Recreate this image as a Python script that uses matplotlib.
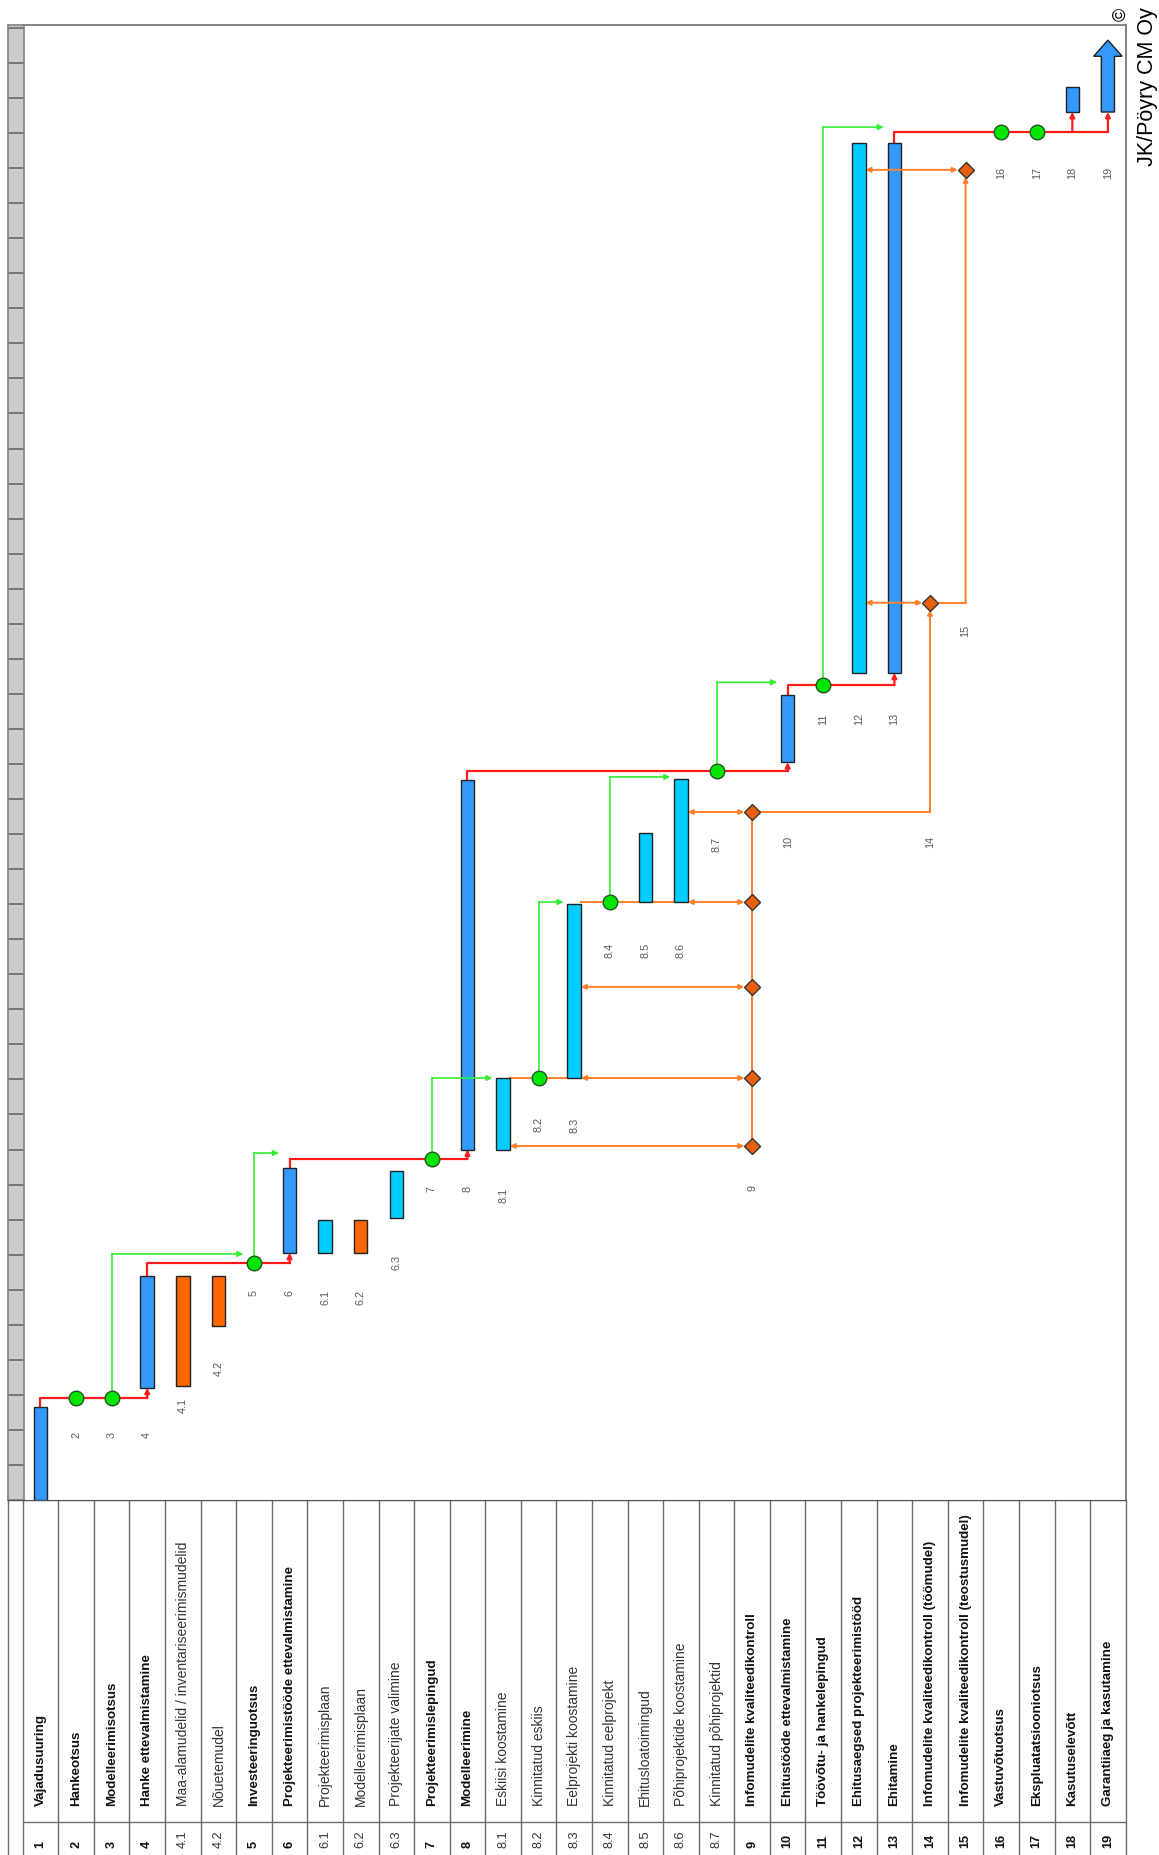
import numpy as np
import matplotlib
matplotlib.use("Agg")
import matplotlib.pyplot as plt
from matplotlib.lines import Line2D
from matplotlib.patches import FancyArrow

plt.rcParams["font.family"] = ["Liberation Sans", "DejaVu Sans"]

# ---- data (time runs bottom -> top, one column per task) ----
codes = ["1", "2", "3", "4", "4.1", "4.2", "5", "6", "6.1", "6.2", "6.3", "7", "8",
         "8.1", "8.2", "8.3", "8.4", "8.5", "8.6", "8.7", "9", "10", "11", "12", "13",
         "14", "15", "16", "17", "18", "19"]
names = ["Vajadusuuring", "Hankeotsus", "Modelleerimisotsus", "Hanke ettevalmistamine",
         "Maa-alamudelid / inventariseerimismudelid", "Nõuetemudel", "Investeeringuotsus",
         "Projekteerimistööde ettevalmistamine", "Projekteerimisplaan", "Modelleerimisplaan",
         "Projekteerijate valimine", "Projekteerimislepingud", "Modelleerimine",
         "Eskiisi koostamine", "Kinnitatud eskiis", "Eelprojekti koostamine",
         "Kinnitatud eelprojekt", "Ehitusloatoimingud", "Põhiprojektide koostamine",
         "Kinnitatud põhiprojektid", "Infomudelite kvaliteedikontroll",
         "Ehitustööde ettevalmistamine", "Töövõtu- ja hankelepingud",
         "Ehitusaegsed projekteerimistööd", "Ehitamine",
         "Infomudelite kvaliteedikontroll (töömudel)",
         "Infomudelite kvaliteedikontroll (teostusmudel)", "Vastuvõtuotsus",
         "Ekspluatatsiooniotsus", "Kasutuselevõtt", "Garantiiaeg ja kasutamine"]
kinds = ["main", "ms", "ms", "main", "model", "model", "ms", "main", "sub", "model", "sub",
         "ms", "main", "sub", "ms", "sub", "ms", "sub", "sub", "ms", "qc", "main", "ms",
         "sub", "main", "qc", "qc", "ms", "ms", "main", "arrow"]
nan = np.nan
starts = [0.0, 2.91, 2.91, 3.2, 3.25, 4.96, 6.76, 7.05, 7.05, 7.05, 8.05, 9.73, 10.0,
          10.0, 12.04, 12.04, 17.06, 17.06, 17.06, 20.8, 10.1, 21.05, 23.25, 23.6, 23.6,
          25.6, 37.95, 39.03, 39.03, 39.6, 39.6]
ends = [2.66, nan, nan, 6.4, 6.4, 6.4, nan, 9.47, 8.0, 8.0, 9.39, nan, 20.54,
        12.04, nan, 17.0, nan, 19.03, 20.57, nan, 19.63, 22.97, nan, 38.72, 38.72,
        nan, nan, nan, nan, 40.3, 41.65]

qc9_times = [10.1, 12.04, 14.64, 17.06, 19.63]
qc9_targets = ["8.1", "8.3", "8.3", "8.6", "8.6"]
qc_late = [("14", "12"), ("15", "12")]
orange_runs = [("8.1", "8.3", 12.04), ("8.3", "8.6", 17.06)]
red_links = [("1", ["4"]), ("4", ["6"]), ("6", ["8"]), ("8", ["10"]), ("10", ["13"]),
             ("13", ["18", "19"])]
green_links = [("3", "5", 7.02), ("5", "6", 9.9), ("7", "8.1", 12.04), ("8.2", "8.3", 17.06),
               ("8.4", "8.6", 20.63), ("8.7", "10", 23.33), ("11", "13", 39.17)]

# ---- layout ----
W_PX, H_PX = 1159, 1856
X0, X1 = 22.7, 1125.7          # column area
Y_TOP, Y_BOT = 26, 1501        # chart area
PX_PER_T = 35.05
T_MAX = (Y_BOT - Y_TOP) / PX_PER_T
label_t = [nan, 1.88, 1.88, 1.88, 2.74, 3.78, 5.93, 5.93, 5.8, 5.8, 6.8, 8.9, 8.9,
           8.73, 10.73, 10.73, 15.72, 15.72, 15.72, 18.72, 8.93, 18.8, 22.31, 22.31,
           22.31, 18.8, 24.82, 37.89, 37.89, 37.89, 37.89]

BLUE, CYAN, ORANGE_BAR = "#3399ff", "#00ccff", "#ff6600"
RED, GREEN, ORANGE = "#ff1a1a", "#33ee33", "#ff7f2a"
BW = 0.38
half = BW / 2
idx = {c: i for i, c in enumerate(codes)}
n = len(codes)

fig = plt.figure(figsize=(W_PX / 100, H_PX / 100), dpi=100)
ax = fig.add_axes([X0 / W_PX, (H_PX - Y_BOT) / H_PX, (X1 - X0) / W_PX,
                   (Y_BOT - Y_TOP) / H_PX])
ax.set_xlim(-0.5, n - 0.5)
ax.set_ylim(0, T_MAX)
ax.set_xticks([])
ax.set_yticks([])
ax.spines["left"].set_visible(False)
for side in ["top", "right"]:
    ax.spines[side].set_color("#7a7a7a")
    ax.spines[side].set_linewidth(1.3)
ax.spines["bottom"].set_color("#555555")

# gray time strip
axg = fig.add_axes([7.5 / W_PX, (H_PX - Y_BOT) / H_PX, (X0 + 0.8 - 7.5) / W_PX,
                    (Y_BOT - Y_TOP) / H_PX])
axg.set_facecolor("#cbcbcb")
axg.set_ylim(0, T_MAX)
axg.set_xlim(0, 1)
axg.set_xticks([])
axg.set_yticks([])
for s in axg.spines.values():
    s.set_color("#808080")
    s.set_linewidth(1.2)
for k in range(1, int(T_MAX) + 1):
    axg.axhline(k, color="#6e6e6e", lw=1.3)

# bars
bar_color = {"main": BLUE, "sub": CYAN, "model": ORANGE_BAR}
for i, k in enumerate(kinds):
    if k in bar_color:
        ax.bar(i, ends[i] - starts[i], bottom=starts[i], width=BW, color=bar_color[k],
               edgecolor="#222222", linewidth=1.0, zorder=3)
    elif k == "arrow":
        length = ends[i] - starts[i]
        ax.add_patch(FancyArrow(i, starts[i], 0, length, width=0.37, head_width=0.8,
                                head_length=0.46, length_includes_head=True,
                                facecolor=BLUE, edgecolor="#222222", linewidth=1.0,
                                zorder=3))

# red main chain
for src, targets in red_links:
    i0 = idx[src]
    tcols = [idx[t] for t in targets]
    ms_cols = [j for j in range(i0 + 1, min(tcols)) if kinds[j] == "ms"]
    via = starts[ms_cols[-1]]
    ax.plot([i0, i0, max(tcols)], [ends[i0], via, via], color=RED, lw=1.6, zorder=2)
    for j in tcols:
        ax.annotate("", xy=(j, starts[j]), xytext=(j, via),
                    arrowprops=dict(arrowstyle="-|>", color=RED, lw=1.6, shrinkA=0,
                                    shrinkB=0, mutation_scale=7), zorder=2)

# green decision links
for src, dst, t in green_links:
    i0, j = idx[src], idx[dst]
    ax.plot([i0, i0], [starts[i0], t], color=GREEN, lw=1.2, zorder=4)
    ax.annotate("", xy=(j - 0.3, t), xytext=(i0, t),
                arrowprops=dict(arrowstyle="-|>", color=GREEN, lw=1.2, shrinkA=0,
                                shrinkB=0, mutation_scale=8), zorder=4)

# orange quality control
oprops = dict(arrowstyle="<|-|>", color=ORANGE, lw=1.4, shrinkA=0, shrinkB=0,
              mutation_scale=7)
i9 = idx["9"]
ax.plot([i9, i9], [qc9_times[0], qc9_times[-1]], color=ORANGE, lw=1.4, zorder=4)
for t, tgt in zip(qc9_times, qc9_targets):
    ax.annotate("", xy=(i9 - 0.22, t), xytext=(idx[tgt] + half, t), arrowprops=oprops,
                zorder=4)
for a, b, t in orange_runs:
    ax.plot([idx[a] + half, idx[b] - half], [t, t], color=ORANGE, lw=1.4, zorder=2)
ax.plot([i9] * len(qc9_times), qc9_times, "D", ms=8.5, mfc="#e8600c", mec="#333333",
        mew=1.0, zorder=5)

prev_col, prev_t = i9, qc9_times[-1]
for code, tgt in qc_late:
    k = idx[code]
    ax.plot([prev_col, k], [prev_t, prev_t], color=ORANGE, lw=1.4, zorder=4)
    ax.annotate("", xy=(k, starts[k] - 0.2), xytext=(k, prev_t),
                arrowprops=dict(arrowstyle="-|>", color=ORANGE, lw=1.4, shrinkA=0,
                                shrinkB=0, mutation_scale=7), zorder=4)
    ax.annotate("", xy=(k - 0.22, starts[k]), xytext=(idx[tgt] + half, starts[k]),
                arrowprops=oprops, zorder=4)
    ax.plot(k, starts[k], "D", ms=8.5, mfc="#e8600c", mec="#333333", mew=1.0, zorder=5)
    prev_col, prev_t = k, starts[k]

# milestones
ms_idx = [i for i, k in enumerate(kinds) if k == "ms"]
ax.plot(ms_idx, [starts[i] for i in ms_idx], "o", ms=10.5, mfc="#00e600", mec="#225522",
        mew=1.0, zorder=6)

# small code labels in the chart
for i, c in enumerate(codes):
    if not np.isnan(label_t[i]):
        ax.text(i, label_t[i], c, rotation=90, ha="center", va="center", fontsize=7.8,
                color="#5a5a5a", zorder=6)

# ---- table of task names ----
axt = fig.add_axes([X0 / W_PX, 0, (X1 - X0) / W_PX, (H_PX - Y_BOT) / H_PX])
axt.set_xlim(-0.5, n - 0.5)
axt.set_ylim(H_PX, Y_BOT)
axt.axis("off")
for k in range(n + 1):
    axt.axvline(k - 0.5, color="#6a6a6a", lw=1.0, clip_on=False)
axt.axhline(1823, color="#6a6a6a", lw=1.0)
axt.axhline(Y_BOT, color="#555555", lw=1.0)
fig.add_artist(Line2D([7.5 / W_PX] * 2, [0, (H_PX - Y_BOT) / H_PX],
                      transform=fig.transFigure, color="#6a6a6a", lw=1.0))
fig.add_artist(Line2D([7.5 / W_PX, X0 / W_PX], [(H_PX - Y_BOT) / H_PX] * 2,
                      transform=fig.transFigure, color="#555555", lw=1.0))

for i, (c, name) in enumerate(zip(codes, names)):
    is_main = "." not in c
    style = dict(rotation=90, rotation_mode="anchor", ha="left", va="center",
                 fontweight="bold" if is_main else "normal",
                 color="#111111" if is_main else "#333333")
    axt.text(i, 1806, name, fontsize=9.6 if is_main else 10.0, **style)
    axt.text(i, 1848, c, fontsize=9.2, **style)

# copyright
fig.text(1121 / W_PX, 1 - 14 / H_PX, "©", rotation=90, ha="center", va="center",
         fontsize=13)
fig.text(1148 / W_PX, 1 - 166 / H_PX, "JK/Pöyry CM Oy", rotation=90,
         rotation_mode="anchor", ha="left", va="center", fontsize=15.5)

fig.savefig("out.png", dpi=100)
